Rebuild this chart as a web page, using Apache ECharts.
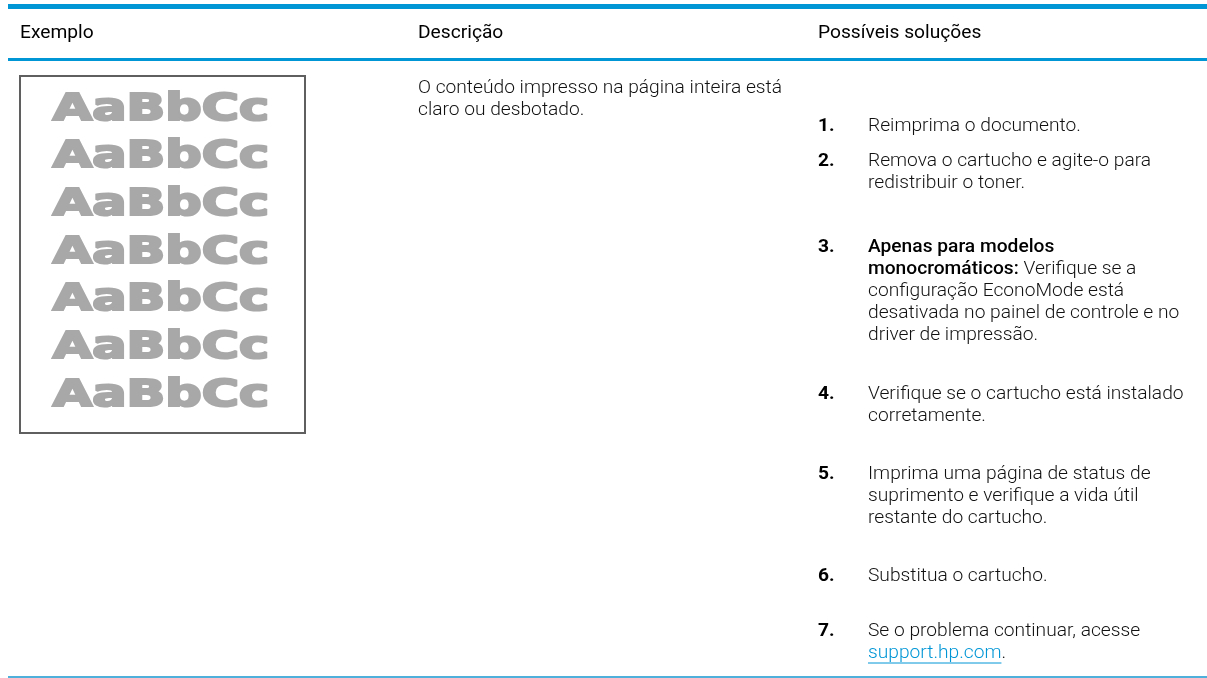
<!DOCTYPE html>
<html><head><meta charset="utf-8">
<script src="https://cdn.jsdelivr.net/npm/echarts@6/dist/echarts.min.js"></script>
<style>html,body{margin:0;padding:0;background:#fff}#c{width:1207px;height:678px}</style>
</head><body><div id="c"></div>
<script>
// ---- content ----
const headers = ['Exemplo', 'Descrição', 'Possíveis soluções'];
const sampleLines = ['AaBbCc', 'AaBbCc', 'AaBbCc', 'AaBbCc', 'AaBbCc', 'AaBbCc', 'AaBbCc'];
const descriptionLines = ['O conteúdo impresso na página inteira está', 'claro ou desbotado.'];
const solutionNumbers = ['1.', '2.', '3.', '4.', '5.', '6.', '7.'];
const solutionTexts = [
  ['Reimprima o documento.'],
  ['Remova o cartucho e agite-o para', 'redistribuir o toner.'],
  ['{b|Apenas para modelos}', '{b|monocromáticos:} Verifique se a', 'configuração EconoMode está', 'desativada no painel de controle e no', 'driver de impressão.'],
  ['Verifique se o cartucho está instalado', 'corretamente.'],
  ['Imprima uma página de status de', 'suprimento e verifique a vida útil', 'restante do cartucho.'],
  ['Substitua o cartucho.'],
  ['Se o problema continuar, acesse', '{link|support.hp.com}.']
];
const linkText = 'support.hp.com';

// ---- layout ----
const W = 1207;
const BLUE = '#0096d6';
const FONT = 'Roboto';
const FS = 19.2;
const colX = [20, 418, 818];
const textX = 868;
const headerY = 33;
const lineH = 22;
const descY0 = 88;
const itemY = [126, 161, 247, 394, 474, 576, 631];
const box = { x: 20, y: 76, w: 285, h: 357 };
const sample = { cx: 161, y0: 110, step: 47.7, width: 219, size: 37 };

const measure = (font, txt) => {
  const ctx = document.createElement('canvas').getContext('2d');
  ctx.font = font;
  return ctx.measureText(txt).width;
};

const els = [];
// rules
els.push({ type: 'rect', shape: { x: 8, y: 4, width: W - 8, height: 5 }, style: { fill: BLUE } });
els.push({ type: 'rect', shape: { x: 8, y: 58, width: W - 8, height: 3 }, style: { fill: BLUE } });
els.push({ type: 'rect', shape: { x: 8, y: 676, width: W - 8, height: 2 }, style: { fill: '#4fb0dc' } });

// headers
headers.forEach((h, i) => {
  els.push({ type: 'text', x: colX[i], y: headerY, style: { text: h, font: '400 ' + FS + 'px ' + FONT, fill: '#000', textAlign: 'left', textVerticalAlign: 'middle' } });
});

// sample box
els.push({ type: 'rect', shape: { x: box.x, y: box.y, width: box.w, height: box.h }, style: { fill: '#fff', stroke: '#5f5f5f', lineWidth: 2 } });
const sFont = '900 ' + sample.size + 'px "DejaVu Sans"';
const sScale = sample.width / (measure(sFont, sampleLines[0]) + 2);
sampleLines.forEach((t, i) => {
  els.push({ type: 'text', x: sample.cx, y: sample.y0 + i * sample.step, scaleX: sScale,
    style: { text: t, font: sFont, fill: '#a8a8a8', stroke: '#a8a8a8', lineWidth: 2.2, textAlign: 'center', textVerticalAlign: 'middle' } });
});

// description
descriptionLines.forEach((t, i) => {
  els.push({ type: 'text', x: colX[1], y: descY0 + i * lineH, style: { text: t, font: '300 ' + FS + 'px ' + FONT, fill: '#111', textAlign: 'left', textVerticalAlign: 'middle' } });
});

// solutions
const rich = {
  b: { fontFamily: FONT, fontWeight: 500, fontSize: FS, fill: '#000' },
  link: { fontFamily: FONT, fontWeight: 300, fontSize: FS, fill: BLUE }
};
solutionNumbers.forEach((n, i) => {
  els.push({ type: 'text', x: colX[2], y: itemY[i], style: { text: n, font: '700 ' + FS + 'px ' + FONT, fill: '#000', textAlign: 'left', textVerticalAlign: 'middle' } });
  solutionTexts[i].forEach((t, j) => {
    const y = itemY[i] + j * lineH;
    els.push({ type: 'text', x: textX, y: y, style: { text: t, fontFamily: FONT, fontWeight: 300, fontSize: FS, fill: '#111', textAlign: 'left', textVerticalAlign: 'middle', rich: rich } });
    if (t.indexOf('{link|') === 0) {
      const lw = measure('300 ' + FS + 'px ' + FONT, linkText);
      els.push({ type: 'line', shape: { x1: textX, y1: y + 10, x2: textX + lw, y2: y + 10 }, style: { stroke: BLUE, lineWidth: 1 } });
    }
  });
});

const chart = echarts.init(document.getElementById('c'), null, { renderer: 'canvas' });
chart.setOption({ backgroundColor: '#fff', animation: false, graphic: { elements: els } });
</script></body></html>
